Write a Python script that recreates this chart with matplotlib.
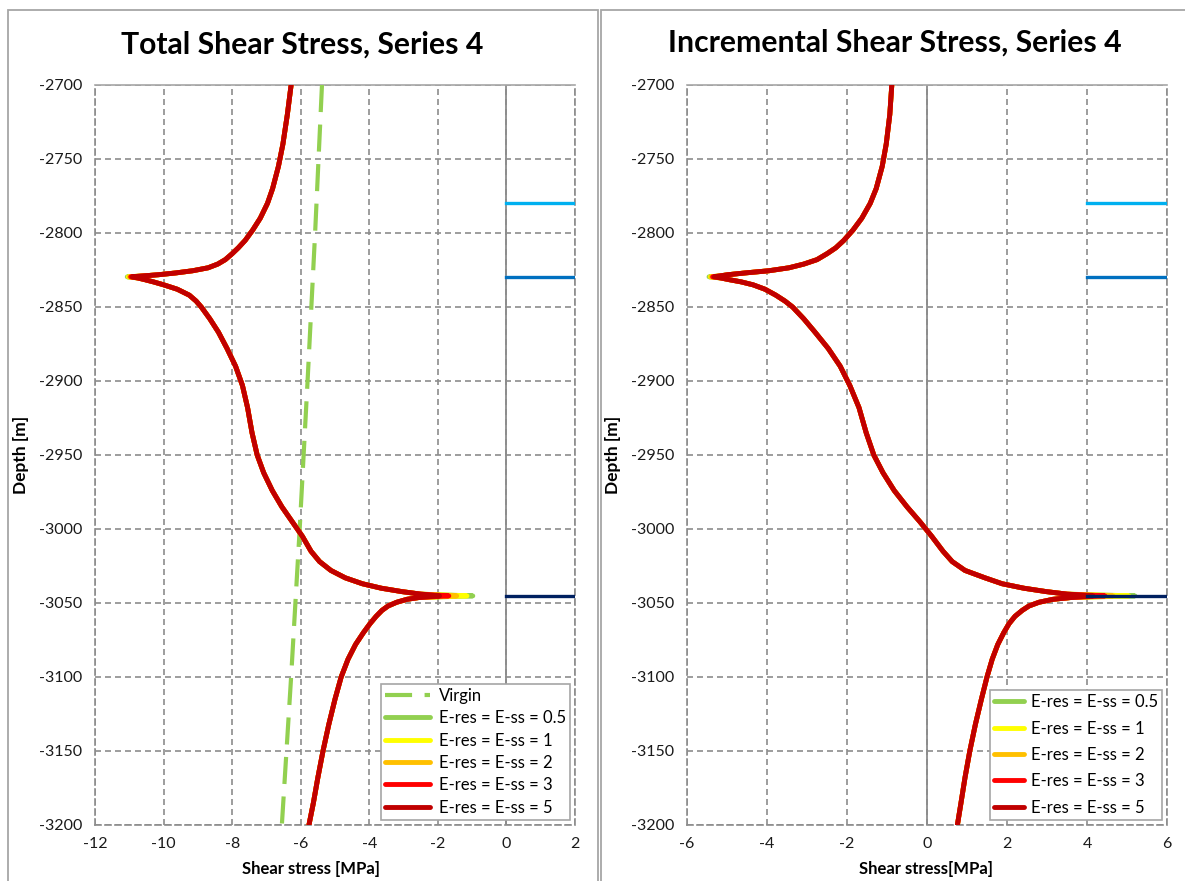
import numpy as np
import matplotlib.pyplot as plt
from matplotlib.patches import Rectangle

plt.rcParams['font.family'] = ['Lato', 'DejaVu Sans']
plt.rcParams['axes.unicode_minus'] = False

# depth points shared by all the curves [m]
depth = [-2700, -2720, -2740, -2755, -2770, -2780, -2790, -2798, -2805, -2810, -2814, -2818, -2821, -2823.5, -2825.5,
         -2827, -2828.2, -2829, -2829.6,
         -2830.4, -2831.5, -2833, -2835, -2838, -2842, -2846, -2850, -2858, -2867, -2878, -2890, -2903, -2918, -2935,
         -2950, -2962, -2974, -2985, -2995, -3005, -3015, -3022, -3028, -3033, -3037, -3040, -3042.3, -3044, -3045.2,
         -3046.3, -3047.5, -3049.5, -3052, -3055, -3059, -3064, -3070, -3078, -3088, -3100, -3115, -3132, -3150, -3168,
         -3185, -3200]

# total shear stress [MPa], run E-res = E-ss = 5
total = [-6.28, -6.39, -6.52, -6.65, -6.82, -6.97, -7.18, -7.40, -7.62, -7.82, -8.00, -8.20, -8.42, -8.70, -9.15,
         -9.65, -10.15, -10.60, -10.92,
         -10.75, -10.55, -10.30, -10.00, -9.60, -9.25, -9.05, -8.90, -8.65, -8.40, -8.15, -7.90, -7.70, -7.55, -7.42,
         -7.27, -7.08, -6.83, -6.55, -6.25, -5.95, -5.70, -5.45, -5.12, -4.70, -4.20, -3.65, -3.05, -2.50, -1.95,
         -2.55, -2.90, -3.20, -3.45, -3.63, -3.80, -3.98, -4.17, -4.40, -4.62, -4.82, -5.00, -5.18, -5.35, -5.50,
         -5.63, -5.76]

# incremental shear stress [MPa], run E-res = E-ss = 5
incr = [-0.88, -0.93, -1.02, -1.12, -1.27, -1.42, -1.63, -1.85, -2.08, -2.28, -2.50, -2.75, -3.08, -3.45, -3.95,
        -4.55, -4.98, -5.18, -5.32,
        -5.15, -4.95, -4.65, -4.35, -4.05, -3.78, -3.55, -3.36, -3.08, -2.80, -2.47, -2.17, -1.93, -1.70, -1.52,
        -1.33, -1.10, -0.82, -0.50, -0.18, 0.12, 0.40, 0.63, 0.95, 1.45, 1.88, 2.42, 2.98, 3.50, 4.15,
        3.60, 3.15, 2.80, 2.55, 2.38, 2.20, 2.05, 1.92, 1.77, 1.63, 1.50, 1.36, 1.21, 1.07, 0.95,
        0.85, 0.76]

# runs only differ at the two peaks
runs = ['0.5', '1', '2', '3', '5']
run_colors = ['#92d050', '#ffff00', '#ffc000', '#ff0000', '#c00000']
total_tip_upper = [-11.06, -11.03, -11.00, -10.96, -10.92]
total_tip_lower = [-0.98, -1.15, -1.45, -1.68, -1.95]
incr_tip_upper = [-5.45, -5.42, -5.40, -5.36, -5.32]
incr_tip_lower = [5.20, 5.05, 4.65, 4.45, 4.15]

virgin_depth = [-2700, -2800, -2900, -3000, -3100, -3200]
virgin = [-5.38, -5.58, -5.80, -6.03, -6.28, -6.55]

# layer markers
layer_depth = [-2780, -2830, -3045]
layer_colors = ['#00b0f0', '#0070c0', '#002060']
layer_span_total = [0, 2]
layer_span_incr = [4, 6]

GRID = '#8c8c8c'
DASH = (0, (3.6, 2.4))

fig = plt.figure(figsize=(11.85, 8.81), dpi=100)

# panel frames
for x0, x1 in [(8, 598), (601, 1190)]:
    fig.add_artist(Rectangle((x0/1185, -0.01), (x1-x0)/1185, 1.01-10/881, transform=fig.transFigure,
                             fill=False, edgecolor='#a6a6a6', lw=1.3))

axL = fig.add_axes([95/1185, 1-825/881, 480/1185, 740/881])
axR = fig.add_axes([687/1185, 1-825/881, 480/1185, 740/881])


def style(ax, xlim, xticks):
    ax.set_xlim(xlim)
    ax.set_ylim(-3200, -2700)
    ax.set_xticks(xticks)
    ax.set_yticks(np.arange(-3200, -2699, 50))
    ax.grid(True, color=GRID, lw=1.2, ls=DASH)
    ax.set_axisbelow(True)
    for s in ['left', 'right', 'bottom']:
        ax.spines[s].set_linestyle(DASH)
        ax.spines[s].set_color(GRID)
        ax.spines[s].set_linewidth(1.2)
    ax.spines['top'].set_color('#a6a6a6')
    ax.spines['top'].set_linewidth(1.2)
    ax.axvline(0, color='#8c8c8c', lw=1.3, zorder=1.5)
    ax.tick_params(length=0, pad=9, labelsize=11.5, colors='#1a1a1a')
    ax.set_ylabel('Depth [m]', fontweight='bold', fontsize=12.5)
    ax.yaxis.set_label_coords(-0.1375, 0.5)


def draw_runs(ax, vals, tip_up, tip_low):
    i_up = depth.index(-2829.6)
    i_low = depth.index(-3045.2)
    for k in range(len(runs)):
        v = list(vals)
        v[i_up] = tip_up[k]
        v[i_low] = tip_low[k]
        ax.plot(v, depth, color=run_colors[k], lw=3.5, solid_capstyle='round', solid_joinstyle='round',
                label='E-res = E-ss = ' + runs[k], zorder=3)


def draw_layers(ax, span):
    for d, c in zip(layer_depth, layer_colors):
        ax.plot(span, [d, d], color=c, lw=2.4, zorder=4)


# left: total shear stress
style(axL, (-12, 2), range(-12, 3, 2))
axL.plot(virgin, virgin_depth, color='#92d050', lw=3, ls=(0, (6.5, 3)), label='Virgin', zorder=3)
draw_runs(axL, total, total_tip_upper, total_tip_lower)
draw_layers(axL, layer_span_total)
axL.set_xlabel('Shear stress [MPa]', fontweight='bold', fontsize=12)
axL.xaxis.set_label_coords(0.45, -0.048)

# right: incremental shear stress
style(axR, (-6, 6), range(-6, 7, 2))
draw_runs(axR, incr, incr_tip_upper, incr_tip_lower)
draw_layers(axR, layer_span_incr)
axR.set_xlabel('Shear stress[MPa]', fontweight='bold', fontsize=12)
axR.xaxis.set_label_coords(0.498, -0.048)

leg_opts = {axL: dict(handlelength=2.7, handletextpad=0.55, labelspacing=0.38),
            axR: dict(handlelength=1.8, handletextpad=0.4, labelspacing=0.62)}
for ax in (axL, axR):
    h, l = ax.get_legend_handles_labels()
    leg = ax.legend(h, l, loc='lower right', bbox_to_anchor=(0.99, 0.007), frameon=True, fancybox=False,
                    edgecolor='#a6a6a6', framealpha=1, fontsize=12, borderpad=0.25, borderaxespad=0,
                    **leg_opts[ax])
    leg.get_frame().set_linewidth(1.2)
    leg.set_zorder(5)

fig.text(302/1185, 1-45/881, 'Total Shear Stress, Series 4', ha='center', va='center', fontsize=21.7,
         fontweight='bold')
fig.text(895/1185, 1-43/881, 'Incremental Shear Stress, Series 4', ha='center', va='center', fontsize=21.7,
         fontweight='bold')

fig.savefig('out.png', dpi=100)
